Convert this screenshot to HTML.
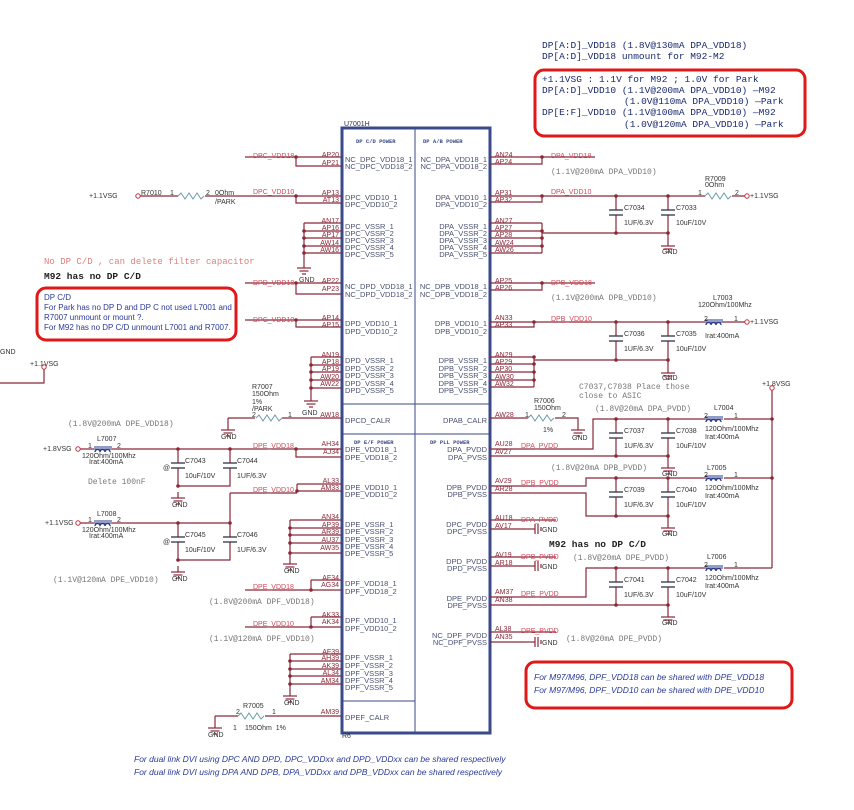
<!DOCTYPE html>
<html><head><meta charset="utf-8"><style>
body{margin:0;background:#fff}
svg{display:block}
.w{stroke:#8a2838;stroke-width:1.2;fill:none}
.pn{font:7px "Liberation Sans",sans-serif;fill:#8a2838}
.pl{font:7.5px "Liberation Sans",sans-serif;fill:#4a5070}
.nl{font:7px "Liberation Sans",sans-serif;fill:#d04a5a}
.c{font:7px "Liberation Sans",sans-serif;fill:#333}
.m{font:8px "Liberation Mono",monospace;fill:#777}
.mb{font:9.5px "Liberation Mono",monospace;fill:#1a2a70}
.bl{font:italic 8.5px "Liberation Sans",sans-serif;fill:#2a3a9a}
.hd{font:bold 5.5px "Liberation Mono",monospace;fill:#3a4a8a}
.d{fill:#8a2838}
</style></head><body>
<svg width="854" height="810" viewBox="0 0 854 810" xmlns="http://www.w3.org/2000/svg">
<defs>
<g id="gnd"><line x1="0" y1="0" x2="0" y2="6" class="w"/><line x1="-7" y1="6" x2="7" y2="6" class="w"/><line x1="-4.5" y1="9" x2="4.5" y2="9" class="w"/><line x1="-2" y1="12" x2="2" y2="12" class="w"/></g>
<g id="cap"><line x1="-7" y1="0" x2="7" y2="0" stroke="#334" stroke-width="1.3"/><line x1="-7" y1="5" x2="7" y2="5" stroke="#334" stroke-width="1.3"/></g>
<g id="res"><polyline points="0,0 3,-3 7,3 11,-3 15,3 19,-3 23,3 26,0" fill="none" stroke="#6a9aaa" stroke-width="1"/></g>
<g id="ind"><line x1="-9" y1="-5" x2="9" y2="-5" stroke="#2a3a8a" stroke-width="1"/><line x1="-9" y1="-3" x2="9" y2="-3" stroke="#2a3a8a" stroke-width="1"/><path d="M-8,0 a2.5,2.5 0 0 1 5,0 a2.5,2.5 0 0 1 5,0 a2.5,2.5 0 0 1 5,0" fill="none" stroke="#2a3a8a" stroke-width="1.3"/></g>
<g id="sg"><line x1="0" y1="0" x2="9" y2="0" class="w"/><line x1="9" y1="-5" x2="9" y2="5" class="w"/><line x1="12" y1="-5" x2="12" y2="5" class="w"/><line x1="15" y1="-2" x2="15" y2="2" class="w"/><text x="16" y="3" class="c">GND</text></g>
</defs>

<rect x="342" y="128" width="148" height="605" fill="none" stroke="#3a4a8a" stroke-width="3"/>
<line x1="415" y1="128" x2="415" y2="733" stroke="#3a4a8a" stroke-width="1"/>
<line x1="342" y1="404" x2="490" y2="404" stroke="#3a4a8a" stroke-width="1"/>
<line x1="342" y1="434" x2="490" y2="434" stroke="#3a4a8a" stroke-width="1"/>
<line x1="342" y1="701" x2="415" y2="701" stroke="#3a4a8a" stroke-width="1"/>
<text x="344" y="126" class="c" font-size="6">U7001H</text>
<text x="342" y="738" class="c" font-size="5">R6</text>
<text x="356" y="143" class="hd">DP C/D POWER</text>
<text x="423" y="143" class="hd">DP A/B POWER</text>
<text x="354" y="444" class="hd">DP E/F POWER</text>
<text x="430" y="444" class="hd">DP PLL POWER</text>

<g class="w">
<path d="M245,157H342M296,157V166H342"/>
<path d="M140,196H178M205,196H342M296,196V203H342"/>
<path d="M304,223H342M304,231H342M304,238H342M304,246H342M304,253H342M304,223V262"/>
<path d="M245,283H342M296,283V294H342"/>
<path d="M245,320H342M296,320V327H342"/>
<path d="M311,357H342M311,365H342M311,372H342M311,380H342M311,388H342M311,357V395"/>
<path d="M228,418H255M282,418H342M228,418V424"/>
<path d="M80,449H94M112,449H342M296,449V457H342"/>
<path d="M178,449V463M178,468V486H230V468M230,449V463"/>
<path d="M230,493H297M297,484H342M297,484V491H342M230,493V523"/>
<path d="M80,523H94M112,523H230M178,523V537M178,542V560H230V542M230,523V537"/>
<path d="M290,520H342M290,528H342M290,535H342M290,543H342M290,553H342M290,520V558"/>
<path d="M245,590H342M311,580H342M311,580V590"/>
<path d="M245,627H342M311,617H342M311,617V627"/>
<path d="M290,654H342M290,661H342M290,669H342M290,676H342M290,684H342M290,654V690"/>
<path d="M215,716H238M265,716H342M215,716V722"/>
<path d="M44,369V383H0"/>
</g>
<g class="d">
<circle cx="296" cy="157" r="1.8"/><circle cx="296" cy="196" r="1.8"/><circle cx="304" cy="231" r="1.8"/><circle cx="304" cy="238" r="1.8"/><circle cx="304" cy="246" r="1.8"/><circle cx="304" cy="253" r="1.8"/>
<circle cx="296" cy="283" r="1.8"/><circle cx="296" cy="320" r="1.8"/><circle cx="311" cy="365" r="1.8"/><circle cx="311" cy="372" r="1.8"/><circle cx="311" cy="380" r="1.8"/><circle cx="311" cy="388" r="1.8"/>
<circle cx="296" cy="449" r="1.8"/><circle cx="178" cy="449" r="1.8"/><circle cx="230" cy="449" r="1.8"/><circle cx="178" cy="486" r="1.8"/><circle cx="297" cy="491" r="1.8"/><circle cx="230" cy="523" r="1.8"/><circle cx="178" cy="523" r="1.8"/><circle cx="178" cy="560" r="1.8"/>
<circle cx="290" cy="528" r="1.8"/><circle cx="290" cy="535" r="1.8"/><circle cx="290" cy="543" r="1.8"/><circle cx="290" cy="553" r="1.8"/><circle cx="311" cy="590" r="1.8"/><circle cx="311" cy="627" r="1.8"/>
<circle cx="290" cy="661" r="1.8"/><circle cx="290" cy="669" r="1.8"/><circle cx="290" cy="676" r="1.8"/><circle cx="290" cy="684" r="1.8"/>
</g>
<use href="#gnd" x="304" y="262"/><use href="#gnd" x="311" y="395"/><use href="#gnd" x="228" y="424"/><use href="#gnd" x="178" y="566"/><use href="#gnd" x="178" y="492"/><use href="#gnd" x="290" y="558"/><use href="#gnd" x="290" y="690"/><use href="#gnd" x="215" y="722"/>
<g class="c"><text x="299" y="282">GND</text><text x="302" y="415">GND</text><text x="221" y="439">GND</text><text x="172" y="507">GND</text><text x="172" y="581">GND</text><text x="284" y="573">GND</text><text x="284" y="705">GND</text><text x="208" y="737">GND</text><text x="0" y="354">GND</text><text x="30" y="366">+1.1VSG</text></g>
<circle cx="44" cy="367" r="2.2" fill="none" stroke="#c03040"/>
<use href="#res" x="178" y="196"/><use href="#res" x="256" y="418"/><use href="#res" x="238" y="716"/>
<use href="#ind" x="103" y="452"/><use href="#ind" x="103" y="526"/>
<use href="#cap" x="178" y="463"/><use href="#cap" x="230" y="463"/><use href="#cap" x="178" y="537"/><use href="#cap" x="230" y="537"/>
<circle cx="138" cy="196" r="2.2" fill="none" stroke="#c03040"/><circle cx="78" cy="449" r="2.2" fill="none" stroke="#c03040"/><circle cx="78" cy="523" r="2.2" fill="none" stroke="#c03040"/>
<g class="c">
<text x="89" y="198">+1.1VSG</text><text x="141" y="195">R7010</text><text x="170" y="195">1</text><text x="206" y="195">2</text><text x="215" y="195">0Ohm</text><text x="215" y="204">/PARK</text>
<text x="252" y="389">R7007</text><text x="252" y="396">150Ohm</text><text x="252" y="404">1%</text><text x="252" y="411">/PARK</text><text x="252" y="417">2</text><text x="288" y="417">1</text>
<text x="43" y="451">+1.8VSG</text><text x="97" y="441">L7007</text><text x="88" y="448">1</text><text x="117" y="448">2</text><text x="82" y="458">120Ohm/100Mhz</text><text x="89" y="464">Irat:400mA</text>
<text x="45" y="525">+1.1VSG</text><text x="97" y="516">L7008</text><text x="88" y="522">1</text><text x="117" y="522">2</text><text x="82" y="532">120Ohm/100Mhz</text><text x="89" y="538">Irat:400mA</text>
<text x="185" y="463">C7043</text><text x="185" y="478">10uF/10V</text><text x="237" y="463">C7044</text><text x="237" y="478">1UF/6.3V</text>
<text x="185" y="537">C7045</text><text x="185" y="552">10uF/10V</text><text x="237" y="537">C7046</text><text x="237" y="552">1UF/6.3V</text>
<text x="163" y="470">@</text><text x="163" y="544">@</text>
<text x="243" y="708">R7005</text><text x="233" y="730">1</text><text x="245" y="730">150Ohm&#160;&#160;1%</text><text x="236" y="714">2</text><text x="272" y="714">1</text>
</g>
<text x="88" y="484" class="m" font-size="5.5">Delete 100nF</text>
<g class="nl"><text x="253" y="158">DPC_VDD18</text><text x="253" y="194">DPC_VDD10</text><text x="253" y="285">DPD_VDD18</text><text x="253" y="322">DPC_VDD10</text><text x="253" y="448">DPE_VDD18</text><text x="253" y="492">DPE_VDD10</text><text x="253" y="589">DPE_VDD18</text><text x="253" y="626">DPE_VDD10</text></g>
<g class="pn" text-anchor="end" transform="translate(0,-3)">
<text x="339" y="160">AP20</text><text x="339" y="168">AP21</text><text x="339" y="198">AP13</text><text x="339" y="205">AT13</text>
<text x="339" y="226">AN17</text><text x="339" y="233">AP16</text><text x="339" y="240">AP17</text><text x="339" y="248">AW14</text><text x="339" y="255">AW16</text>
<text x="339" y="286">AP22</text><text x="339" y="294">AP23</text><text x="339" y="323">AP14</text><text x="339" y="330">AP15</text>
<text x="339" y="360">AN19</text><text x="339" y="367">AP18</text><text x="339" y="374">AP19</text><text x="339" y="382">AW20</text><text x="339" y="389">AW22</text>
<text x="339" y="420">AW18</text><text x="339" y="449">AH34</text><text x="339" y="457">AJ34</text><text x="339" y="486">AL33</text><text x="339" y="493">AM33</text>
<text x="339" y="522">AN34</text><text x="339" y="530">AP39</text><text x="339" y="537">AR39</text><text x="339" y="545">AU37</text><text x="339" y="553">AW35</text>
<text x="339" y="583">AF34</text><text x="339" y="590">AG34</text><text x="339" y="620">AK33</text><text x="339" y="627">AK34</text>
<text x="339" y="657">AF39</text><text x="339" y="663">AH39</text><text x="339" y="671">AK39</text><text x="339" y="678">AL34</text><text x="339" y="686">AM34</text><text x="339" y="717">AM39</text>
</g>
<g class="pl">
<text x="345" y="162">NC_DPC_VDD18_1</text><text x="345" y="169">NC_DPC_VDD18_2</text><text x="345" y="200">DPC_VDD10_1</text><text x="345" y="207">DPC_VDD10_2</text>
<text x="345" y="229">DPC_VSSR_1</text><text x="345" y="236">DPC_VSSR_2</text><text x="345" y="243">DPC_VSSR_3</text><text x="345" y="250">DPC_VSSR_4</text><text x="345" y="257">DPC_VSSR_5</text>
<text x="345" y="289">NC_DPD_VDD18_1</text><text x="345" y="297">NC_DPD_VDD18_2</text><text x="345" y="326">DPD_VDD10_1</text><text x="345" y="334">DPD_VDD10_2</text>
<text x="345" y="363">DPD_VSSR_1</text><text x="345" y="371">DPD_VSSR_2</text><text x="345" y="378">DPD_VSSR_3</text><text x="345" y="386">DPD_VSSR_4</text><text x="345" y="393">DPD_VSSR_5</text>
<text x="345" y="423">DPCD_CALR</text><text x="345" y="452">DPE_VDD18_1</text><text x="345" y="460">DPE_VDD18_2</text><text x="345" y="490">DPE_VDD10_1</text><text x="345" y="497">DPE_VDD10_2</text>
<text x="345" y="527">DPE_VSSR_1</text><text x="345" y="534">DPE_VSSR_2</text><text x="345" y="542">DPE_VSSR_3</text><text x="345" y="549">DPE_VSSR_4</text><text x="345" y="556">DPE_VSSR_5</text>
<text x="345" y="586">DPF_VDD18_1</text><text x="345" y="594">DPF_VDD18_2</text><text x="345" y="623">DPF_VDD10_1</text><text x="345" y="631">DPF_VDD10_2</text>
<text x="345" y="660">DPF_VSSR_1</text><text x="345" y="668">DPF_VSSR_2</text><text x="345" y="676">DPF_VSSR_3</text><text x="345" y="683">DPF_VSSR_4</text><text x="345" y="690">DPF_VSSR_5</text>
<text x="345" y="720">DPEF_CALR</text>
</g>

<g class="w">
<path d="M490,157H595M542,157V164H490"/>
<path d="M490,196H705M732,196H745M542,196V202H490"/>
<path d="M616,196V210M616,215V233M668,196V210M668,215V240"/>
<path d="M490,223H542M490,231H542M490,238H542M490,246H542M490,253H542M542,223V253M542,233H668"/>
<path d="M490,283H595M542,283V290H490"/>
<path d="M490,322H705M722,322H745M534,322V327H490"/>
<path d="M616,322V336M616,341V360M668,322V336M668,341V367"/>
<path d="M490,357H534M490,364H534M490,372H534M490,380H534M490,387H534M534,357V387M534,360H668"/>
<path d="M490,418H528M555,418H578V424"/>
<path d="M772,390V568"/>
<path d="M490,449H593V419H705M724,419H772M616,419V433M616,438V456M668,419V433M668,438V462M490,456H668"/>
<path d="M490,486H586V478H705M724,478H772M616,478V492M616,497V516M668,478V492M668,497V522M490,493H586V516H668"/>
<path d="M490,520H556M490,529H526"/>
<path d="M490,557H556M490,566H526"/>
<path d="M490,597H586V568H705M724,568H772M616,568V582M616,587V605M668,568V582M668,587V611M490,605H668"/>
<path d="M490,632H556M490,642H526"/>
</g>
<g class="d">
<circle cx="542" cy="157" r="1.8"/><circle cx="542" cy="196" r="1.8"/><circle cx="616" cy="196" r="1.8"/><circle cx="668" cy="196" r="1.8"/><circle cx="616" cy="233" r="1.8"/><circle cx="668" cy="233" r="1.8"/>
<circle cx="542" cy="231" r="1.8"/><circle cx="542" cy="238" r="1.8"/><circle cx="542" cy="246" r="1.8"/><circle cx="542" cy="283" r="1.8"/>
<circle cx="534" cy="322" r="1.8"/><circle cx="616" cy="322" r="1.8"/><circle cx="668" cy="322" r="1.8"/><circle cx="616" cy="360" r="1.8"/><circle cx="668" cy="360" r="1.8"/>
<circle cx="534" cy="357" r="1.8"/><circle cx="534" cy="364" r="1.8"/><circle cx="534" cy="372" r="1.8"/><circle cx="534" cy="380" r="1.8"/>
<circle cx="616" cy="419" r="1.8"/><circle cx="668" cy="419" r="1.8"/><circle cx="772" cy="419" r="1.8"/><circle cx="616" cy="456" r="1.8"/><circle cx="668" cy="456" r="1.8"/>
<circle cx="616" cy="478" r="1.8"/><circle cx="668" cy="478" r="1.8"/><circle cx="772" cy="478" r="1.8"/><circle cx="616" cy="516" r="1.8"/><circle cx="668" cy="516" r="1.8"/>
<circle cx="616" cy="568" r="1.8"/><circle cx="668" cy="568" r="1.8"/><circle cx="616" cy="605" r="1.8"/><circle cx="668" cy="605" r="1.8"/>
</g>
<use href="#cap" x="616" y="210"/><use href="#cap" x="668" y="210"/><use href="#cap" x="616" y="336"/><use href="#cap" x="668" y="336"/>
<use href="#cap" x="616" y="433"/><use href="#cap" x="668" y="433"/><use href="#cap" x="616" y="492"/><use href="#cap" x="668" y="492"/><use href="#cap" x="616" y="582"/><use href="#cap" x="668" y="582"/>
<use href="#gnd" x="668" y="240"/><use href="#gnd" x="668" y="367"/><use href="#gnd" x="578" y="424"/><use href="#gnd" x="668" y="462"/><use href="#gnd" x="668" y="522"/><use href="#gnd" x="668" y="611"/>
<use href="#res" x="705" y="196"/><use href="#res" x="528" y="418"/>
<use href="#ind" x="714" y="325"/><use href="#ind" x="714" y="422"/><use href="#ind" x="714" y="481"/><use href="#ind" x="714" y="571"/>
<use href="#sg" x="526" y="529"/><use href="#sg" x="526" y="566"/><use href="#sg" x="526" y="642"/>
<circle cx="747" cy="196" r="2.2" fill="none" stroke="#c03040"/><circle cx="747" cy="322" r="2.2" fill="none" stroke="#c03040"/><circle cx="772" cy="388" r="2.2" fill="none" stroke="#c03040"/>
<g class="c">
<text x="750" y="198">+1.1VSG</text><text x="705" y="181">R7009</text><text x="705" y="187">0Ohm</text><text x="698" y="195">1</text><text x="735" y="195">2</text>
<text x="624" y="210">C7034</text><text x="624" y="225">1UF/6.3V</text><text x="676" y="210">C7033</text><text x="676" y="225">10uF/10V</text><text x="662" y="254">GND</text>
<text x="750" y="324">+1.1VSG</text><text x="713" y="300">L7003</text><text x="698" y="307">120Ohm/100Mhz</text><text x="705" y="338">Irat:400mA</text><text x="704" y="321">2</text><text x="734" y="321">1</text>
<text x="624" y="336">C7036</text><text x="624" y="351">1UF/6.3V</text><text x="676" y="336">C7035</text><text x="676" y="351">10uF/10V</text><text x="662" y="380">GND</text>
<text x="762" y="386">+1.8VSG</text>
<text x="534" y="403">R7006</text><text x="534" y="410">150Ohm</text><text x="543" y="432">1%</text><text x="525" y="417">1</text><text x="562" y="417">2</text><text x="572" y="440">GND</text>
<text x="714" y="410">L7004</text><text x="705" y="431">120Ohm/100Mhz</text><text x="705" y="439">Irat:400mA</text><text x="704" y="418">2</text><text x="734" y="418">1</text>
<text x="624" y="433">C7037</text><text x="624" y="448">1UF/6.3V</text><text x="676" y="433">C7038</text><text x="676" y="448">10uF/10V</text><text x="662" y="476">GND</text>
<text x="707" y="470">L7005</text><text x="705" y="490">120Ohm/100Mhz</text><text x="705" y="498">Irat:400mA</text><text x="704" y="477">2</text><text x="734" y="477">1</text>
<text x="624" y="492">C7039</text><text x="624" y="507">1UF/6.3V</text><text x="676" y="492">C7040</text><text x="676" y="507">10uF/10V</text><text x="662" y="536">GND</text>
<text x="707" y="559">L7006</text><text x="705" y="580">120Ohm/100Mhz</text><text x="705" y="588">Irat:400mA</text><text x="704" y="567">2</text><text x="734" y="567">1</text>
<text x="624" y="582">C7041</text><text x="624" y="597">1UF/6.3V</text><text x="676" y="582">C7042</text><text x="676" y="597">10uF/10V</text><text x="662" y="625">GND</text>
</g>
<g class="nl"><text x="551" y="158">DPA_VDD18</text><text x="551" y="194">DPA_VDD10</text><text x="551" y="285">DPB_VDD18</text><text x="551" y="321">DPB_VDD10</text>
<text x="521" y="448">DPA_PVDD</text><text x="521" y="485">DPB_PVDD</text><text x="521" y="522">DPA_PVDD</text><text x="521" y="559">DPB_PVDD</text><text x="521" y="596">DPE_PVDD</text><text x="521" y="633">DPE_PVDD</text></g>
<g class="pn" transform="translate(0,-3)">
<text x="495" y="160">AN24</text><text x="495" y="167">AP24</text><text x="495" y="198">AP31</text><text x="495" y="205">AP32</text>
<text x="495" y="226">AN27</text><text x="495" y="233">AP27</text><text x="495" y="240">AP28</text><text x="495" y="248">AW24</text><text x="495" y="255">AW26</text>
<text x="495" y="286">AP25</text><text x="495" y="293">AP26</text><text x="495" y="323">AN33</text><text x="495" y="330">AP33</text>
<text x="495" y="360">AN29</text><text x="495" y="367">AP29</text><text x="495" y="374">AP30</text><text x="495" y="382">AW30</text><text x="495" y="389">AW32</text>
<text x="495" y="420">AW28</text><text x="495" y="449">AU28</text><text x="495" y="457">AV27</text><text x="495" y="486">AV29</text><text x="495" y="494">AR28</text>
<text x="495" y="523">AU18</text><text x="495" y="531">AV17</text><text x="495" y="560">AV19</text><text x="495" y="568">AR18</text>
<text x="495" y="597">AM37</text><text x="495" y="605">AN38</text><text x="495" y="634">AL38</text><text x="495" y="642">AN35</text>
</g>
<g class="pl" text-anchor="end">
<text x="487" y="162">NC_DPA_VDD18_1</text><text x="487" y="169">NC_DPA_VDD18_2</text><text x="487" y="200">DPA_VDD10_1</text><text x="487" y="207">DPA_VDD10_2</text>
<text x="487" y="229">DPA_VSSR_1</text><text x="487" y="236">DPA_VSSR_2</text><text x="487" y="243">DPA_VSSR_3</text><text x="487" y="250">DPA_VSSR_4</text><text x="487" y="257">DPA_VSSR_5</text>
<text x="487" y="289">NC_DPB_VDD18_1</text><text x="487" y="297">NC_DPB_VDD18_2</text><text x="487" y="326">DPB_VDD10_1</text><text x="487" y="334">DPB_VDD10_2</text>
<text x="487" y="363">DPB_VSSR_1</text><text x="487" y="371">DPB_VSSR_2</text><text x="487" y="378">DPB_VSSR_3</text><text x="487" y="386">DPB_VSSR_4</text><text x="487" y="393">DPB_VSSR_5</text>
<text x="487" y="423">DPAB_CALR</text><text x="487" y="452">DPA_PVDD</text><text x="487" y="460">DPA_PVSS</text><text x="487" y="490">DPB_PVDD</text><text x="487" y="497">DPB_PVSS</text>
<text x="487" y="527">DPC_PVDD</text><text x="487" y="534">DPC_PVSS</text><text x="487" y="564">DPD_PVDD</text><text x="487" y="571">DPD_PVSS</text>
<text x="487" y="601">DPE_PVDD</text><text x="487" y="608">DPE_PVSS</text><text x="487" y="638">NC_DPF_PVDD</text><text x="487" y="645">NC_DPF_PVSS</text>
</g>

<g class="m">
<text x="551" y="174">(1.1V@200mA DPA_VDD10)</text><text x="551" y="300">(1.1V@200mA DPB_VDD10)</text>
<text x="579" y="389">C7037,C7038 Place those</text><text x="579" y="398">close to ASIC</text>
<text x="595" y="411">(1.8V@20mA DPA_PVDD)</text><text x="551" y="470">(1.8V@20mA DPB_PVDD)</text>
<text x="573" y="560">(1.8V@20mA DPE_PVDD)</text><text x="566" y="641">(1.8V@20mA DPE_PVDD)</text>
<text x="68" y="426">(1.8V@200mA DPE_VDD18)</text><text x="53" y="582">(1.1V@120mA DPE_VDD10)</text>
<text x="209" y="604">(1.8V@200mA DPF_VDD18)</text><text x="209" y="641">(1.1V@120mA DPF_VDD10)</text>
</g>
<text x="44" y="264" style="font:9px 'Liberation Mono',monospace;fill:#e08080">No DP C/D , can delete filter capacitor</text>
<text x="44" y="279" style="font:bold 9.5px 'Liberation Mono',monospace;fill:#222">M92 has no DP C/D</text>
<text x="549" y="547" style="font:bold 9.5px 'Liberation Mono',monospace;fill:#222">M92 has no DP C/D</text>

<rect x="37" y="288" width="199" height="52" rx="9" fill="none" stroke="#e01818" stroke-width="3"/>
<g style="font:8px 'Liberation Sans',sans-serif;fill:#2a3a9a">
<text x="44" y="300">DP C/D</text><text x="44" y="310">For Park has no DP D and DP C not used L7001 and</text><text x="44" y="320">R7007 unmount or mount ?.</text><text x="44" y="330">For M92 has no DP C/D unmount L7001 and R7007.</text>
</g>

<g class="mb">
<text x="542" y="48">DP[A:D]_VDD18 (1.8V@130mA DPA_VDD18)</text>
<text x="542" y="59">DP[A:D]_VDD18 unmount for M92-M2</text>
</g>
<rect x="535" y="70" width="270" height="66" rx="9" fill="none" stroke="#e01818" stroke-width="3"/>
<g class="mb">
<text x="542" y="82">+1.1VSG : 1.1V for M92 ; 1.0V for Park</text>
<text x="542" y="93">DP[A:D]_VDD10 (1.1V@200mA DPA_VDD10) —M92</text>
<text x="624" y="104">(1.0V@110mA DPA_VDD10) —Park</text>
<text x="542" y="115">DP[E:F]_VDD10 (1.1V@100mA DPA_VDD10) —M92</text>
<text x="624" y="127">(1.0V@120mA DPA_VDD10) —Park</text>
</g>

<rect x="526" y="662" width="266" height="46" rx="9" fill="none" stroke="#e01818" stroke-width="3"/>
<text x="534" y="680" class="bl">For M97/M96, DPF_VDD18 can be shared with DPE_VDD18</text>
<text x="534" y="693" class="bl">For M97/M96, DPF_VDD10 can be shared with DPE_VDD10</text>
<text x="134" y="762" class="bl" font-size="8">For dual link DVI using DPC AND DPD, DPC_VDDxx and DPD_VDDxx can be shared respectively</text>
<text x="134" y="775" class="bl" font-size="8">For dual link DVI using DPA AND DPB, DPA_VDDxx and DPB_VDDxx can be shared respectively</text>
</svg>
</body></html>
